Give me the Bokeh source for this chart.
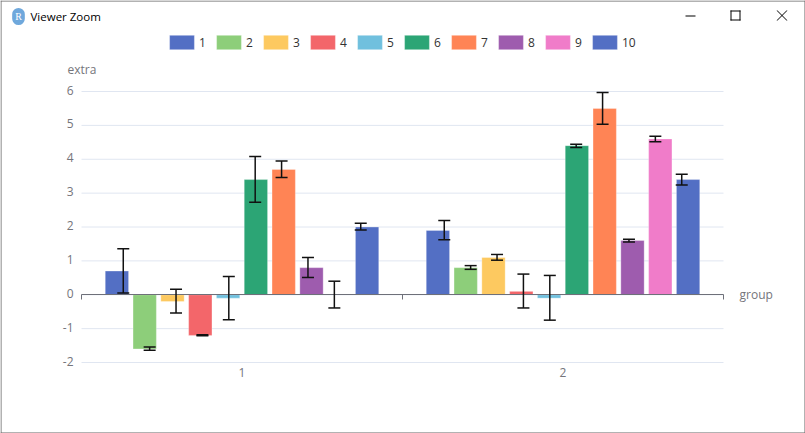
from bokeh.plotting import figure
from bokeh.embed import file_html
from bokeh.resources import INLINE
from bokeh.models import (ColumnDataSource, Range1d, FixedTicker, LinearAxis, Whisker, TeeHead,
                          Legend, LegendItem, Label, BoxAnnotation, PolyAnnotation)
from bokeh.transform import dodge

groups = ["1", "2"]
series = ["1", "2", "3", "4", "5", "6", "7", "8", "9", "10"]
colors = ["#536fc4", "#8dce7a", "#fdc960", "#f3666a", "#70c0de",
          "#2ca575", "#ff8455", "#9e5cae", "#f07cc9", "#536fc4"]
extra = [
    [0.7, 1.9], [-1.6, 0.8], [-0.2, 1.1], [-1.2, 0.1], [-0.1, -0.1],
    [3.4, 4.4], [3.7, 5.5], [0.8, 1.6], [0.0, 4.6], [2.0, 3.4],
]
err_upper = [
    [1.36, 2.19], [-1.54, 0.86], [0.16, 1.19], [-1.18, 0.61], [0.54, 0.57],
    [4.08, 4.44], [3.95, 5.97], [1.10, 1.64], [0.40, 4.68], [2.11, 3.56],
]
err_lower = [
    [0.05, 1.62], [-1.64, 0.75], [-0.54, 1.02], [-1.21, -0.39], [-0.74, -0.75],
    [2.73, 4.35], [3.46, 5.03], [0.51, 1.56], [-0.39, 4.52], [1.91, 3.24],
]
y_ticks = [-2, -1, 0, 1, 2, 3, 4, 5, 6]

FONT = "Open Sans"
AXIS = "#6E7079"
TICK_TEXT = "#75757b"
W, H = 805, 433
L, R, T, B = 81, 82, 91, 71

# the plot frame fills the whole page so that window texts and the legend can sit anywhere
ppx = (W - L - R) / len(groups)
ppy = (H - T - B) / (y_ticks[-1] - y_ticks[0])
x_range = Range1d(-L / ppx, len(groups) + R / ppx)
y_range = Range1d(y_ticks[0] - B / ppy, y_ticks[-1] + T / ppy)

p = figure(width=W, height=H, output_backend="svg", toolbar_location=None,
           x_range=x_range, y_range=y_range, x_axis_location=None, y_axis_location=None,
           min_border=0, outline_line_color=None,
           background_fill_color="white", border_fill_color="white")
p.grid.visible = False

# tick labels sit slightly above their grid lines: a second scale moved by 1.5 px
LABEL_LIFT = 1.5 / ppy
p.extra_y_ranges = {"labels": Range1d(y_range.start - LABEL_LIFT, y_range.end - LABEL_LIFT)}

n = len(y_ticks)
p.segment(x0=[0] * n, x1=[len(groups)] * n, y0=y_ticks, y1=y_ticks,
          line_color="#E0E6F1", line_width=1, level="underlay")

centers = [i + 0.5 for i in range(len(groups))]
x_axis = LinearAxis(fixed_location=y_ticks[0], ticker=FixedTicker(ticks=centers),
                    major_label_overrides={c: g for c, g in zip(centers, groups)},
                    axis_line_color=None, major_tick_line_color=None, minor_tick_line_color=None,
                    major_tick_out=0, major_label_text_color=TICK_TEXT, major_label_text_font=FONT,
                    major_label_text_font_size="12px", major_label_standoff=5)
p.add_layout(x_axis, "below")

y_axis = LinearAxis(fixed_location=0, y_range_name="labels", ticker=FixedTicker(ticks=y_ticks),
                    major_label_overrides={t: str(t) for t in y_ticks},
                    axis_line_color=None, major_tick_line_color=None, minor_tick_line_color=None,
                    major_tick_out=0, major_label_text_color=TICK_TEXT, major_label_text_font=FONT,
                    major_label_text_font_size="12px", major_label_standoff=8)
p.add_layout(y_axis, "left")

edge_ticks = list(range(len(groups) + 1))
zero_axis = LinearAxis(fixed_location=0, ticker=FixedTicker(ticks=edge_ticks), bounds=(0, len(groups)),
                       major_label_overrides={i: "" for i in edge_ticks},
                       axis_line_color=AXIS, axis_line_width=1,
                       major_tick_line_color=AXIS, major_tick_in=0, major_tick_out=5,
                       minor_tick_line_color=None)
p.add_layout(zero_axis, "below")

BAR_PITCH, BAR_W, ERR_PITCH = 0.0866, 0.0727, 0.0822
items = []
for i, name in enumerate(series):
    src = ColumnDataSource(dict(x=centers, top=extra[i], upper=err_upper[i], lower=err_lower[i]))
    r = p.vbar(x=dodge("x", (i - 4.5) * BAR_PITCH), top="top", bottom=0, width=BAR_W, source=src,
               fill_color=colors[i], line_color="white", line_alpha=0.3, line_width=1)
    items.append(LegendItem(label=name, renderers=[r]))
    w = Whisker(base=dodge("x", (i - 4.5) * ERR_PITCH), upper="upper", lower="lower", source=src,
                level="overlay", line_color="#111111", line_width=1.5,
                upper_head=TeeHead(size=12, line_color="#111111", line_width=1.5),
                lower_head=TeeHead(size=12, line_color="#111111", line_width=1.5))
    p.add_layout(w)

# "screen" units are measured from the frame's left and bottom edges
def fy(y):
    return H - y

# a legend swatch is drawn 10% inside its glyph box
legend = Legend(items=items, orientation="horizontal", location=(166, fy(51)),
                glyph_width=31, glyph_height=18, label_standoff=2, spacing=7, padding=0, margin=0,
                label_text_font=FONT, label_text_font_size="12px", label_text_color="#333333",
                border_line_color=None, background_fill_alpha=0,
                label_height=14, label_width=7)
p.add_layout(legend)

def label(text, x, y, **kw):
    opts = dict(x=x, y=fy(y), x_units="screen", y_units="screen", text=text, text_font=FONT,
                text_font_size="12px", text_color=TICK_TEXT, text_baseline="middle")
    opts.update(kw)
    p.add_layout(Label(**opts))

label("extra", 67, 69)
label("group", 739, 294)
label("Viewer Zoom", 30, 16, text_color="#000000", text_font_size="11.5px")
label("R", 18, 16, text_color="white", text_align="center", text_font="Liberation Serif",
      text_font_size="10px", background_fill_color="#6fa8dc", border_radius=8, padding=3)

def box(left, right, top, bottom, **kw):
    p.add_layout(BoxAnnotation(left=left, right=right, top=fy(top), bottom=fy(bottom),
                               left_units="screen", right_units="screen", top_units="screen",
                               bottom_units="screen", **kw))

# window frame and buttons (drawn shapes)
for frame_edge in [(0, 1, 0, 433), (804, 805, 0, 433), (0, 805, 0, 1), (0, 805, 432, 433)]:
    box(*frame_edge, fill_color="#666666", fill_alpha=1, line_color=None)
box(685, 695, 15, 16, fill_color="black", fill_alpha=1, line_color=None)
for btn_edge in [(730, 740, 10, 11), (730, 740, 19, 20), (730, 731, 10, 20), (739, 740, 10, 20)]:
    box(*btn_edge, fill_color="black", fill_alpha=1, line_color=None)
for xs, ys in [([776, 777, 787, 786], [10, 10, 20, 20]), ([786, 787, 777, 776], [10, 10, 20, 20])]:
    p.add_layout(PolyAnnotation(xs=xs, ys=[fy(v) for v in ys],
                                xs_units="screen", ys_units="screen",
                                fill_color="black", fill_alpha=1, line_color=None))

open("out.html", "w").write(file_html(p, INLINE))
